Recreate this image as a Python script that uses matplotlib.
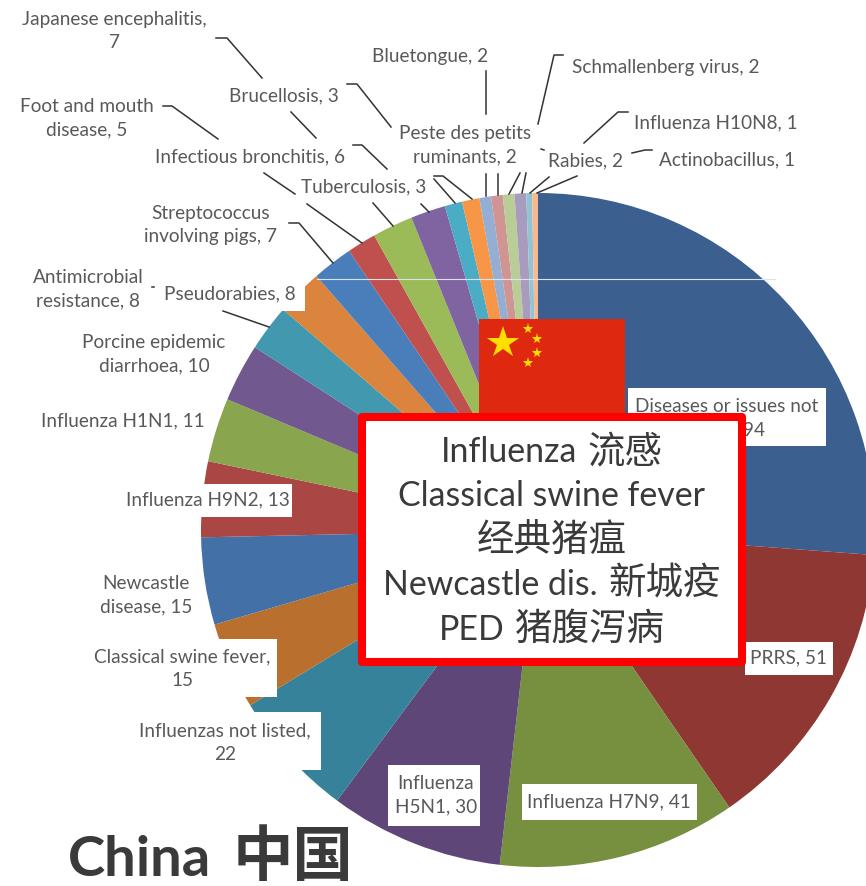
import matplotlib
matplotlib.use('Agg')
import matplotlib.pyplot as plt
from matplotlib.patches import Rectangle

plt.rcParams['font.family'] = ['Lato', 'Noto Sans CJK SC', 'DejaVu Sans']

# reported diseases, clockwise from 12 o'clock
names = ['Diseases or issues not\nlisted', 'PRRS', 'Influenza H7N9', 'Influenza\nH5N1',
         'Influenzas not listed', 'Classical swine fever', 'Newcastle\ndisease',
         'Influenza H9N2', 'Influenza H1N1', 'Porcine epidemic\ndiarrhoea',
         'Pseudorabies', 'Antimicrobial\nresistance', 'Streptococcus\ninvolving pigs',
         'Foot and mouth\ndisease', 'Japanese encephalitis', 'Infectious bronchitis',
         'Tuberculosis', 'Brucellosis', 'Peste des petits\nruminants', 'Bluetongue',
         'Schmallenberg virus', 'Rabies', 'Influenza H10N8', 'Actinobacillus']
values = [94, 51, 41, 30, 22, 15, 15, 13, 11, 10, 8, 8, 7, 5, 7, 6, 3, 3, 2, 2, 2, 2, 1, 1]
colors = ['#3B5F8E', '#8E3733', '#76903F', '#5F4679', '#35829A', '#B96F2E',
          '#4470A8', '#AA4644', '#89A54E', '#71588F', '#4198AF', '#DB843D',
          '#4A7EBB', '#C0504D', '#9BBB59', '#8064A2', '#4BACC6', '#F79646',
          '#95AFD4', '#D09492', '#B9CD96', '#A99BBD', '#92C4D4', '#F9B990']

# value goes on its own line for these
value_below = ['Japanese encephalitis', 'Classical swine fever', 'Influenzas not listed']

# call-out lines as (latin part, chinese part)
box_lines = [('Influenza', '流感'), ('Classical swine fever', ''), ('', '经典猪瘟'),
             ('Newcastle dis.', '新城疫'), ('PED', '猪腹泻病')]
title_parts = ('China', '中国')

# label centres in pixels, same order as names
label_pos = [(727, 418), (789, 658), (609, 802), (436, 795), (225, 743), (182, 669),
             (146, 595), (208, 500), (123, 421), (154, 354), (230, 294), (88, 289),
             (211, 225), (87, 118), (114, 31), (250, 157), (364, 187), (284, 96),
             (465, 145), (430, 56), (666, 67), (586, 161), (716, 123), (727, 160)]

# white patches behind the labels sitting on the pie
patches = [(628, 388, 198, 58), (745, 642, 88, 33), (522, 784, 175, 36), (388, 765, 92, 61),
           (100, 712, 221, 58), (90, 639, 187, 58), (120, 484, 172, 33), (155, 279, 150, 32)]

leaders = [[(216, 38), (227, 38), (262, 78)], [(291, 112), (316, 138)],
           [(353, 145), (362, 145), (387, 169)], [(373, 203), (393, 226)],
           [(347, 84), (357, 84), (391, 127)], [(421, 204), (429, 212)],
           [(163, 106), (172, 106), (218, 139)], [(264, 173), (295, 194)], [(307, 204), (362, 243)],
           [(289, 223), (299, 223), (333, 263)],
           [(486, 71), (486, 114)], [(486, 174), (486, 196)], [(498, 174), (498, 195)],
           [(563, 55), (554, 55), (538, 124)], [(541, 149), (544, 150)],
           [(628, 112), (618, 112), (584, 143)], [(652, 150), (645, 150), (632, 153)],
           [(520, 173), (509, 194)], [(526, 173), (522, 193)], [(549, 177), (530, 193)],
           [(577, 176), (537, 193)], [(434, 176), (443, 176), (472, 199)], [(434, 179), (455, 203)],
           [(223, 311), (269, 327)], [(152, 287), (154, 287)]]

fig = plt.figure(figsize=(8.66, 8.86), dpi=100)
ax = fig.add_axes([0, 0, 1, 1])

# y axis runs downwards, so the start angle and direction are mirrored
ax.pie(values, colors=colors, center=(538, 530), radius=337, startangle=-90, counterclock=True,
       wedgeprops={'linewidth': 0})
ax.set_xlim(0, 866)
ax.set_ylim(886, 0)
ax.set_aspect('auto')
ax.axis('off')

# thin light seam across the upper pie
ax.plot([317, 775], [279, 279], color='#DDE3EA', lw=0.8, zorder=2)

for x, y, w, h in patches:
    ax.add_patch(Rectangle((x, y), w, h, facecolor='white', edgecolor='none', zorder=3))

for line in leaders:
    ax.plot([p[0] for p in line], [p[1] for p in line], color='#333333', lw=1.1, zorder=3)

for name, value, (x, y) in zip(names, values, label_pos):
    sep = ',\n' if name in value_below else ', '
    ax.text(x, y, f'{name}{sep}{value}', ha='center', va='center', fontsize=13.7,
            color='#595959', linespacing=1.45, zorder=4)

# flag
ax.add_patch(Rectangle((479, 319), 146, 96, facecolor='#DE2910', edgecolor='none', zorder=5))
ax.plot([503], [343], marker='*', markersize=24, color='#FFDE00', mew=0, zorder=6)
ax.plot([528, 537, 537, 528], [329, 339, 353, 363], ls='none', marker='*', markersize=8,
        color='#FFDE00', mew=0, zorder=6)

# call-out box
ax.add_patch(Rectangle((362, 417), 380, 245, facecolor='white', edgecolor='#FF0000', lw=5.8,
                       joinstyle='round', zorder=7))


def draw_runs(latin, chinese, x, y, gap, size_latin, size_cjk, center=True, **kw):
    # latin and chinese use different sizes, so lay the two runs side by side
    renderer = fig.canvas.get_renderer()
    t1 = ax.text(x, y, latin, ha='left', va='baseline', fontsize=size_latin, zorder=8, **kw)
    t2 = ax.text(x, y, chinese, ha='left', va='baseline', fontsize=size_cjk, zorder=8, **kw)
    w1 = t1.get_window_extent(renderer).width if latin else 0
    w2 = t2.get_window_extent(renderer).width if chinese else 0
    used_gap = gap if latin and chinese else 0
    left = x - (w1 + used_gap + w2) / 2 if center else x
    t1.set_x(left)
    t2.set_x(left + w1 + used_gap)


for (latin, chinese), y in zip(box_lines, [462, 506, 552, 595, 640]):
    draw_runs(latin, chinese, 552, y, 10, 24.4, 27, color='#3A3A3A')

draw_runs(title_parts[0], title_parts[1], 68, 876, 21, 40.5, 43.5, center=False,
          color='#3A3A3A', fontweight='bold')

fig.savefig('out.png', dpi=100)
